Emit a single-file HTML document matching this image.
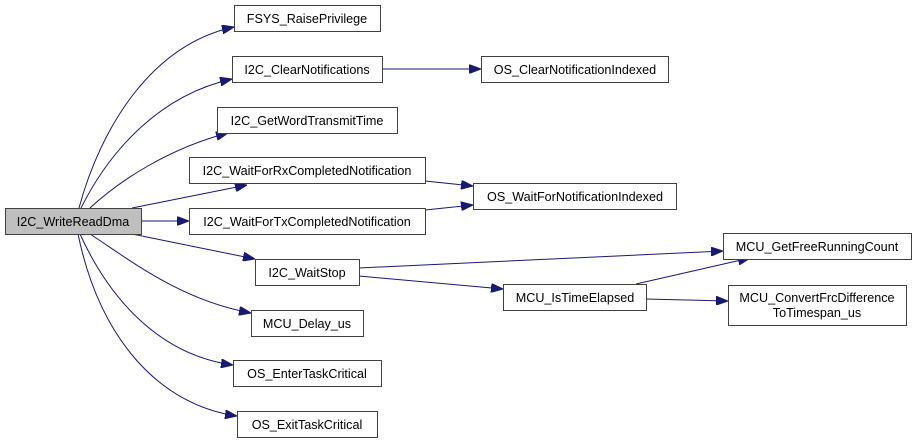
<!DOCTYPE html>
<html><head><style>body{margin:0;background:#fff}svg{display:block}text{font-family:"Liberation Sans",Arial,sans-serif;font-size:12.6px;fill:#000}</style></head>
<body>
<svg width="916" height="443" viewBox="0 0 916 443" xmlns="http://www.w3.org/2000/svg">
<defs><marker id="a" markerWidth="12" markerHeight="9" refX="12" refY="4.5" orient="auto" markerUnits="userSpaceOnUse"><path d="M0,0 L12,4.5 L0,9 Z" fill="#191970" stroke="#191970"/></marker></defs>
<g fill="none" stroke="#191970" stroke-width="1" marker-end="url(#a)">
<path d="M79,208 C100,130 150,45 234,27"/>
<path d="M81,208 C110,150 160,95 232,79"/>
<path d="M90,208 C120,180 170,148 228,133"/>
<path d="M132,208 L247,185"/>
<path d="M141,221 L189,221"/>
<path d="M132,234 L255,259"/>
<path d="M90,234 C130,260 180,300 251,313"/>
<path d="M80,234 C110,300 160,355 233,365"/>
<path d="M78,234 C100,340 160,405 237,416"/>
<path d="M382,69 L481,69"/>
<path d="M425,181 L473,186"/>
<path d="M425,210 L473,205"/>
<path d="M359,268 L723,251"/>
<path d="M359,276 L503,289"/>
<path d="M636,284 L750,258"/>
<path d="M646,299 L728,301"/>
</g>
<g fill="#fff" stroke="#404040" stroke-width="1">
<rect x="5.5" y="208.5" width="136" height="26" fill="#bfbfbf"/>
<rect x="234.5" y="5.5" width="146" height="26"/>
<rect x="232.5" y="56.5" width="150" height="26"/>
<rect x="217.5" y="107.5" width="180" height="26"/>
<rect x="189.5" y="157.5" width="236" height="26"/>
<rect x="189.5" y="208.5" width="236" height="26"/>
<rect x="255.5" y="259.5" width="104" height="26"/>
<rect x="251.5" y="310.5" width="112" height="26"/>
<rect x="233.5" y="360.5" width="148" height="26"/>
<rect x="237.5" y="411.5" width="140" height="26"/>
<rect x="481.5" y="56.5" width="187" height="26"/>
<rect x="473.5" y="183.5" width="203" height="26"/>
<rect x="723.5" y="233.5" width="188" height="26"/>
<rect x="503.5" y="284.5" width="143" height="26"/>
<rect x="728.5" y="285.5" width="178" height="40"/>
</g>
<g text-anchor="middle">
<text x="73" y="226">I2C_WriteReadDma</text>
<text x="307" y="23">FSYS_RaisePrivilege</text>
<text x="307" y="74">I2C_ClearNotifications</text>
<text x="307" y="125">I2C_GetWordTransmitTime</text>
<text x="307" y="175">I2C_WaitForRxCompletedNotification</text>
<text x="307" y="226">I2C_WaitForTxCompletedNotification</text>
<text x="307" y="277">I2C_WaitStop</text>
<text x="307" y="328">MCU_Delay_us</text>
<text x="307" y="378">OS_EnterTaskCritical</text>
<text x="307" y="429">OS_ExitTaskCritical</text>
<text x="575" y="74">OS_ClearNotificationIndexed</text>
<text x="575" y="201">OS_WaitForNotificationIndexed</text>
<text x="817" y="251">MCU_GetFreeRunningCount</text>
<text x="575" y="302">MCU_IsTimeElapsed</text>
<text x="817" y="302">MCU_ConvertFrcDifference</text>
<text x="817" y="317">ToTimespan_us</text>
</g>
</svg>
</body></html>
